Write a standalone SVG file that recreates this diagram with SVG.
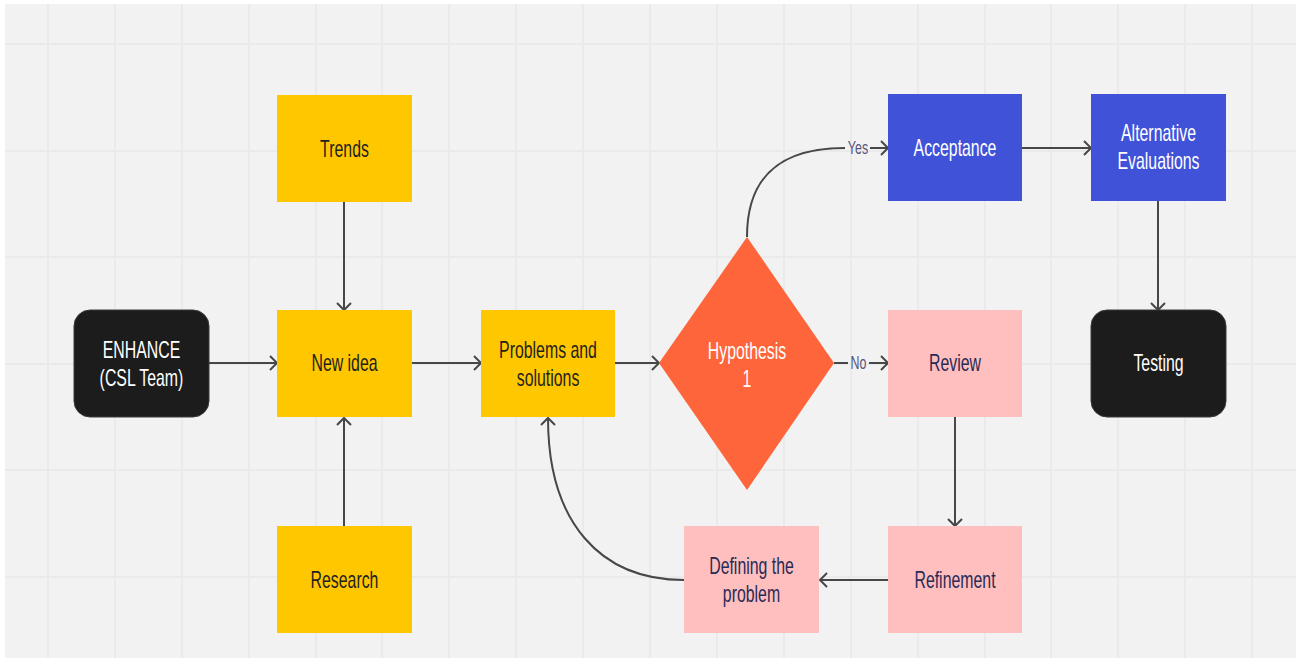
<svg xmlns="http://www.w3.org/2000/svg" width="1296" height="658" viewBox="0 0 1296 658">
<style>
.grid line{stroke:#eaeaea;stroke-width:2}
.t{font-family:"Liberation Sans",Arial,sans-serif;font-size:23px;text-anchor:middle}
.lbl{font-family:"Liberation Sans",Arial,sans-serif;font-size:18px;text-anchor:middle;fill:#55557a}
.w{fill:#ffffff}
.d{fill:#1f1f1f}
.p{fill:#2a2a55}
.yellow{fill:#ffc700}
.pink{fill:#ffbfbf}
.blue{fill:#4052d8}
.black{fill:#1c1c1c;stroke:#3a3a3a;stroke-width:1}
.orange{fill:#ff653b}
.conn path{fill:none;stroke:#474747;stroke-width:2}
</style>
<defs>
<marker id="arr" markerUnits="userSpaceOnUse" markerWidth="20" markerHeight="20" viewBox="-10 -10 20 20" refX="0" refY="0" orient="auto">
<path d="M-7,-7 L0,0 L-7,7" fill="none" stroke="#474747" stroke-width="2"/>
</marker>
</defs>
<rect x="0" y="0" width="1296" height="658" fill="#ffffff"/>
<rect x="5" y="4" width="1291" height="654" fill="#f2f2f2"/>
<g class="grid">
<line x1="48" y1="4" x2="48" y2="658"/>
<line x1="115" y1="4" x2="115" y2="658"/>
<line x1="182" y1="4" x2="182" y2="658"/>
<line x1="249" y1="4" x2="249" y2="658"/>
<line x1="316" y1="4" x2="316" y2="658"/>
<line x1="382" y1="4" x2="382" y2="658"/>
<line x1="449" y1="4" x2="449" y2="658"/>
<line x1="516" y1="4" x2="516" y2="658"/>
<line x1="583" y1="4" x2="583" y2="658"/>
<line x1="650" y1="4" x2="650" y2="658"/>
<line x1="717" y1="4" x2="717" y2="658"/>
<line x1="784" y1="4" x2="784" y2="658"/>
<line x1="851" y1="4" x2="851" y2="658"/>
<line x1="918" y1="4" x2="918" y2="658"/>
<line x1="985" y1="4" x2="985" y2="658"/>
<line x1="1051" y1="4" x2="1051" y2="658"/>
<line x1="1118" y1="4" x2="1118" y2="658"/>
<line x1="1185" y1="4" x2="1185" y2="658"/>
<line x1="1252" y1="4" x2="1252" y2="658"/>
<line x1="5" y1="44" x2="1296" y2="44"/>
<line x1="5" y1="151" x2="1296" y2="151"/>
<line x1="5" y1="257" x2="1296" y2="257"/>
<line x1="5" y1="364" x2="1296" y2="364"/>
<line x1="5" y1="470" x2="1296" y2="470"/>
<line x1="5" y1="577" x2="1296" y2="577"/>
</g>
<g class="conn">
<path d="M209,363 L277,363" marker-end="url(#arr)"/>
<path d="M344,202 L344,310" marker-end="url(#arr)"/>
<path d="M344,526 L344,418" marker-end="url(#arr)"/>
<path d="M412,363 L481,363" marker-end="url(#arr)"/>
<path d="M615,363 L659,363" marker-end="url(#arr)"/>
<path d="M747,237 C747,172 785,148 845,148"/>
<path d="M870,148 L888,148" marker-end="url(#arr)"/>
<path d="M834,363 L848,363"/>
<path d="M869,363 L888,363" marker-end="url(#arr)"/>
<path d="M1022,148 L1091,148" marker-end="url(#arr)"/>
<path d="M1158,201 L1158,310" marker-end="url(#arr)"/>
<path d="M955,417 L955,526" marker-end="url(#arr)"/>
<path d="M888,580 L820,580" marker-end="url(#arr)"/>
<path d="M684,580 C600,580 548,522 548,418" marker-end="url(#arr)"/>
<text class="lbl" transform="translate(858 0) scale(0.69 1)" x="0" y="154">Yes</text>
<text class="lbl" transform="translate(858.5 0) scale(0.69 1)" x="0" y="369">No</text>
</g>
<g id="enhance">
<rect class="black" x="74" y="310" width="135" height="107" rx="16"/>
<text class="t w" transform="translate(141.5 0) scale(0.69 1)" x="0" y="358">ENHANCE</text>
<text class="t w" transform="translate(141.5 0) scale(0.69 1)" x="0" y="386">(CSL Team)</text>
</g>
<g id="trends">
<rect class="yellow" x="277" y="95" width="135" height="107"/>
<text class="t d" transform="translate(344.5 0) scale(0.69 1)" x="0" y="157">Trends</text>
</g>
<g id="newidea">
<rect class="yellow" x="277" y="310" width="135" height="107"/>
<text class="t d" transform="translate(344.5 0) scale(0.69 1)" x="0" y="371">New idea</text>
</g>
<g id="research">
<rect class="yellow" x="277" y="526" width="135" height="107"/>
<text class="t d" transform="translate(344.5 0) scale(0.69 1)" x="0" y="588">Research</text>
</g>
<g id="problems">
<rect class="yellow" x="481" y="310" width="134" height="107"/>
<text class="t d" transform="translate(548 0) scale(0.69 1)" x="0" y="358">Problems and</text>
<text class="t d" transform="translate(548 0) scale(0.69 1)" x="0" y="386">solutions</text>
</g>
<g id="hypothesis">
<polygon class="orange" points="747,237 834,363 747,490 659,363"/>
<text class="t w" transform="translate(747 0) scale(0.69 1)" x="0" y="359">Hypothesis</text>
<text class="t w" transform="translate(747 0) scale(0.69 1)" x="0" y="387">1</text>
</g>
<g id="acceptance">
<rect class="blue" x="888" y="94" width="134" height="107"/>
<text class="t w" transform="translate(955 0) scale(0.69 1)" x="0" y="156">Acceptance</text>
</g>
<g id="alternative">
<rect class="blue" x="1091" y="94" width="135" height="107"/>
<text class="t w" transform="translate(1158.5 0) scale(0.69 1)" x="0" y="141">Alternative</text>
<text class="t w" transform="translate(1158.5 0) scale(0.69 1)" x="0" y="169">Evaluations</text>
</g>
<g id="testing">
<rect class="black" x="1091" y="310" width="135" height="107" rx="16"/>
<text class="t w" transform="translate(1158.5 0) scale(0.69 1)" x="0" y="371">Testing</text>
</g>
<g id="review">
<rect class="pink" x="888" y="310" width="134" height="107"/>
<text class="t p" transform="translate(955 0) scale(0.69 1)" x="0" y="371">Review</text>
</g>
<g id="refinement">
<rect class="pink" x="888" y="526" width="134" height="107"/>
<text class="t p" transform="translate(955 0) scale(0.69 1)" x="0" y="588">Refinement</text>
</g>
<g id="defining">
<rect class="pink" x="684" y="526" width="135" height="107"/>
<text class="t p" transform="translate(751.5 0) scale(0.69 1)" x="0" y="574">Defining the</text>
<text class="t p" transform="translate(751.5 0) scale(0.69 1)" x="0" y="602">problem</text>
</g>
</svg>
